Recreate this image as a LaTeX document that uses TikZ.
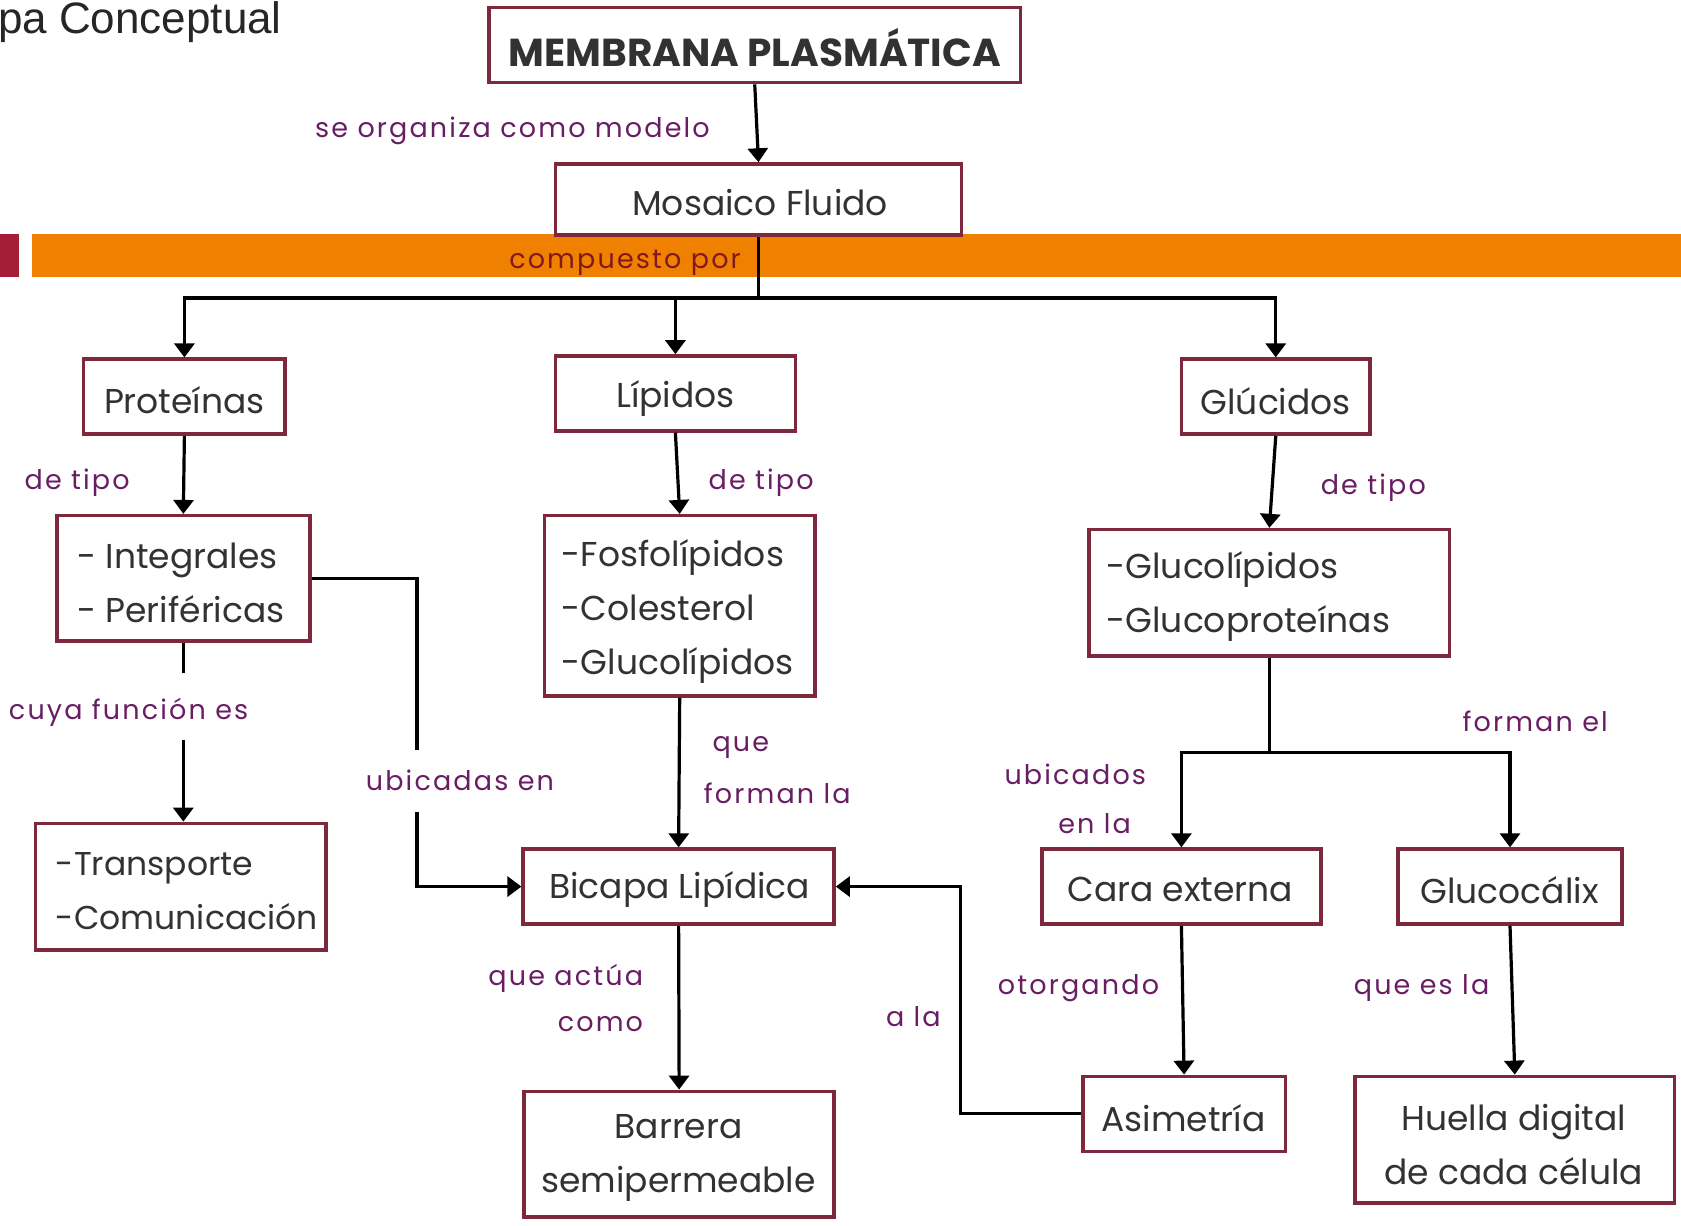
\documentclass[tikz,border=0pt]{standalone}
\usepackage{fontspec}
\setmainfont{Poppins}
\newfontfamily\lblfont[LetterSpace=8]{Poppins}
\newfontfamily\titlefont{Liberation Sans}
\usetikzlibrary{arrows.meta,fit}
\definecolor{boxline}{RGB}{125,40,60}
\definecolor{boxtext}{RGB}{50,50,50}
\definecolor{lblcol}{RGB}{105,30,100}
\definecolor{lblred}{RGB}{130,25,30}
\definecolor{band}{RGB}{240,128,0}
\definecolor{bandred}{RGB}{165,30,55}
\begin{document}
\begin{tikzpicture}[x=1.0721pt,y=-1.0721pt,
  box/.style={draw=boxline, line width=3.5pt, fill=white, inner sep=0pt},
  btxt/.style={text=boxtext, font=\fontsize{34.5}{54}\selectfont, inner sep=0pt},
  lbl/.style={text=lblcol, font=\lblfont\fontsize{27}{46}\selectfont, inner sep=0pt},
  conn/.style={line width=3.2pt, draw=black},
  arr/.style={conn, -{Triangle[width=20pt,length=14pt]}},
]
\fill[white] (0,0) rectangle (1568,1143);
\useasboundingbox (0,0) rectangle (1568,1143);
% band
\fill[bandred] (0,218) rectangle (18,258);
\fill[band] (30,218) rectangle (1568,258);
% title
\node[anchor=base west, font=\titlefont\fontsize{44}{44}\selectfont, text=black!85, inner sep=0pt] (title) at (-2,31) {pa Conceptual};
% boxes
\node[box, fit={(456,7)(952,77)}] (memb) {};
\node[box, fit={(518,153)(897,219)}] (mos) {};
\node[box, fit={(78,335)(266,405)}] (prot) {};
\node[box, fit={(518,332)(742,402)}] (lip) {};
\node[box, fit={(1102,335)(1278,405)}] (gluc) {};
\node[box, fit={(53,481)(289,598)}] (integ) {};
\node[box, fit={(508,481)(760,649)}] (fosfo) {};
\node[box, fit={(1016,494)(1352,612)}] (glp) {};
\node[box, fit={(33,768)(304,886)}] (transp) {};
\node[box, fit={(488,792)(778,862)}] (bic) {};
\node[box, fit={(489,1018)(778,1135)}] (barr) {};
\node[box, fit={(972,792)(1232,862)}] (cara) {};
\node[box, fit={(1304,792)(1513,862)}] (glx) {};
\node[box, fit={(1010,1004)(1199,1074)}] (asim) {};
\node[box, fit={(1264,1004)(1562,1122)}] (huella) {};
% box texts
\node[btxt, font=\bfseries\fontsize{39}{44}\selectfont] (membT) at (704,44) {MEMBRANA PLASMÁTICA};
\node[btxt] (mosT) at (709,189) {Mosaico Fluido};
\node[btxt] (protT) at (172,373) {Proteínas};
\node[btxt] (lipT) at (630,372) {Lípidos};
\node[btxt] (glucT) at (1190,374) {Glúcidos};
\node[btxt, anchor=west, align=left] (integT) at (72,544) {- Integrales\\- Periféricas};
\node[btxt, anchor=west, align=left] (fosfoT) at (524,570) {-Fosfolípidos\\-Colesterol\\-Glucolípidos};
\node[btxt, anchor=west, align=left] (glpT) at (1032,556) {-Glucolípidos\\-Glucoproteínas};
\node[btxt, anchor=west, align=left, font=\fontsize{33}{54}\selectfont] (transpT) at (52,831) {-Transporte\\-Comunicación};
\node[btxt] (bicT) at (634,830) {Bicapa Lipídica};
\node[btxt, align=center] (barrT) at (633,1080) {Barrera\\semipermeable};
\node[btxt] (caraT) at (1101,830) {Cara externa};
\node[btxt] (glxT) at (1408,830) {Glucocálix};
\node[btxt] (asimT) at (1104,1043) {Asimetría};
\node[btxt, align=center] (huellaT) at (1412,1068) {Huella digital\\de cada célula};
% labels
\node[lbl] (l1) at (478,122) {se organiza como modelo};
\node[lbl, text=lblred] (l2) at (583,245) {compuesto por};
\node[lbl] (l3) at (72,450) {de tipo};
\node[lbl] (l4) at (710,450) {de tipo};
\node[lbl] (l5) at (1281,455) {de tipo};
\node[lbl] (l6) at (120,664) {cuya función es};
\node[lbl] (l7) at (429,728) {ubicadas en};
\node[lbl] (l8a) at (691,697) {que};
\node[lbl] (l8b) at (725,740) {forman la};
\node[lbl] (l9a) at (1003,722) {ubicados};
\node[lbl] (l9b) at (1021,768) {en la};
\node[lbl] (l10) at (1432,673) {forman el};
\node[lbl, anchor=east, align=right] (l11) at (600,931) {que actúa\\como};
\node[lbl] (l12) at (852,948) {a la};
\node[lbl] (l13) at (1006,922) {otorgando};
\node[lbl] (l14) at (1326,922) {que es la};
% connectors
\draw[arr] (memb.south) -- (mos.north);
\coordinate (hub) at (mos.south |- 0,278);
\draw[conn] (mos.south) -- (hub);
\draw[arr] (hub) -| (prot.north);
\draw[arr] (hub) -| (lip.north);
\draw[arr] (hub) -| (gluc.north);
\draw[arr] (prot.south) -- (integ.north);
\draw[arr] (lip.south) -- (fosfo.north);
\draw[arr] (gluc.south) -- (glp.north);
\coordinate (c1) at (integ.south |- 0,628);
\coordinate (c2) at (integ.south |- 0,690);
\draw[conn] (integ.south) -- (c1);
\draw[arr] (c2) -- (c2 |- transp.north);
\coordinate (u1) at (389,700);
\coordinate (u2) at (389,757);
\draw[conn] (integ.east) -| (u1);
\draw[arr] (u2) |- (bic.west);
\draw[arr] (fosfo.south) -- (bic.north);
\draw[arr] (bic.south) -- (barr.north);
\coordinate (a1) at (896,900);
\draw[arr] (asim.west) -| (a1) |- (bic.east);
\coordinate (g1) at (glp.south |- 0,702);
\draw[conn] (glp.south) -- (g1);
\draw[arr] (g1) -| (cara.north);
\draw[arr] (g1) -| (glx.north);
\draw[arr] (cara.south) -- (asim.north);
\draw[arr] (glx.south) -- (huella.north);
\end{tikzpicture}
\end{document}
